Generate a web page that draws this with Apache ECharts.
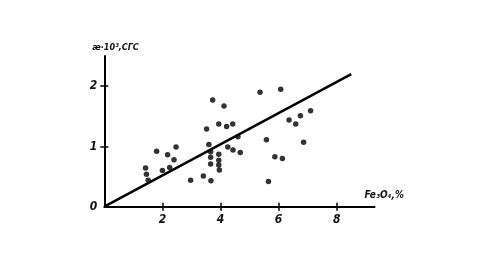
<!DOCTYPE html>
<html>
<head>
<meta charset="utf-8">
<script src="https://cdn.jsdelivr.net/npm/echarts@6/dist/echarts.min.js"></script>
<style>
html,body{margin:0;padding:0;background:#fff;}
#c{width:502px;height:254px;}
</style>
</head>
<body>
<div id="c"></div>
<script>
// Fe3O4 content (%) and magnetic susceptibility (×10^3 CGS)
var fe3o4 = [1.42,1.45,1.51,1.80,2.00,2.18,2.25,2.40,2.47,2.97,3.41,3.52,3.60,3.66,3.66,3.66,3.67,3.73,3.94,3.94,3.94,3.94,3.96,4.12,4.21,4.25,4.42,4.43,4.60,4.68,5.36,5.58,5.65,5.87,6.07,6.13,6.36,6.59,6.75,6.86,7.10];
var kappa  = [0.64,0.54,0.44,0.92,0.60,0.86,0.65,0.78,0.99,0.44,0.51,1.29,1.03,0.91,0.82,0.71,0.43,1.77,1.37,0.87,0.77,0.69,0.61,1.67,1.33,0.99,1.37,0.94,1.16,0.90,1.90,1.11,0.42,0.83,1.95,0.80,1.44,1.37,1.51,1.07,1.59];
// regression line end points
var fitX = [0, 8.5];
var fitY = [0, 2.2];
var xTicks = [2, 4, 6, 8];
var yTicks = [0, 1, 2];
var xName = 'Fe\u2083O\u2084,%';
var yName = '\u00e6\u00b710\u00b3,\u0421\u0413\u0421';

var font = "'DejaVu Sans Condensed', 'DejaVu Sans', sans-serif";
var ink = '#000';
var chart = echarts.init(document.getElementById('c'), null, {renderer:'canvas'});
var pts = fe3o4.map(function(v,i){return [v, kappa[i]];});
var fit = fitX.map(function(v,i){return [v, fitY[i]];});
var lbl = {fontFamily:font, fontStyle:'italic', fontWeight:'bold', fontSize:12, color:'#111'};

chart.setOption({
  animation:false,
  backgroundColor:'#fff',
  grid:{left:104.3, top:56, right:127.5, bottom:47.3, containLabel:false},
  xAxis:[{
    type:'value', min:0, max:9.3, interval:2,
    axisLine:{show:true, onZero:false, lineStyle:{color:ink, width:2}},
    axisTick:{show:true, inside:false, length:4, lineStyle:{color:ink, width:1.5},
      customValues: xTicks},
    axisLabel:{show:true, margin:7, customValues: xTicks,
      formatter:function(v){return xTicks.indexOf(v)>=0 ? String(v) : '';}, ...lbl},
    splitLine:{show:false},
    name:xName, nameLocation:'end', nameGap:-10,
    nameTextStyle:Object.assign({}, lbl, {fontSize:10, align:'left', verticalAlign:'bottom', padding:[0,0,6,0]})
  },{
    type:'value', min:0, max:9.3, interval:2, position:'bottom',
    axisLine:{show:false},
    axisTick:{show:true, inside:true, length:4, lineStyle:{color:ink, width:1.5}, customValues: xTicks},
    axisLabel:{show:false}, splitLine:{show:false}
  }],
  yAxis:[{
    type:'value', min:0, max:2.5, interval:1,
    axisLine:{show:true, onZero:false, lineStyle:{color:ink, width:2}},
    axisTick:{show:true, inside:false, length:4, lineStyle:{color:ink, width:1.5}, customValues:[1,2]},
    axisLabel:{show:true, margin:7, customValues: yTicks,
      formatter:function(v){return yTicks.indexOf(v)>=0 ? String(v) : '';}, ...lbl},
    splitLine:{show:false},
    name:yName, nameLocation:'end', nameGap:4,
    nameTextStyle:Object.assign({}, lbl, {fontSize:9, align:'left', verticalAlign:'bottom', padding:[0,0,0,-12]})
  },{
    type:'value', min:0, max:2.5, interval:1, position:'left',
    axisLine:{show:false},
    axisTick:{show:true, inside:true, length:4, lineStyle:{color:ink, width:1.5}, customValues:[1,2]},
    axisLabel:{show:false}, splitLine:{show:false}
  }],
  series:[{
    type:'line', data:fit, xAxisIndex:0, yAxisIndex:0,
    symbol:'none', lineStyle:{color:ink, width:2.5}, silent:true
  },{
    type:'scatter', data:pts, xAxisIndex:0, yAxisIndex:0,
    symbol:'circle', symbolSize:5.5, itemStyle:{color:ink}
  }]
});
</script>
</body>
</html>
